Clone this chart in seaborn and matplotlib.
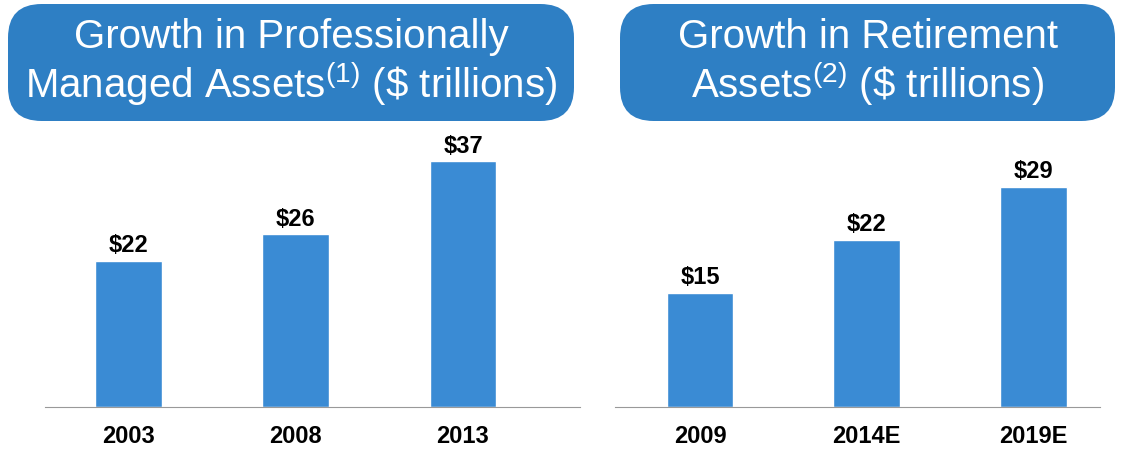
import matplotlib
matplotlib.use("Agg")
import matplotlib.pyplot as plt
from matplotlib.patches import FancyBboxPatch
import seaborn as sns
import pandas as pd

left_years = ["2003", "2008", "2013"]
left_values = [22, 26, 37]
right_years = ["2009", "2014E", "2019E"]
right_values = [15, 22, 29]

sns.set_style("white")
plt.rcParams["font.family"] = ["Liberation Sans", "DejaVu Sans"]
plt.rcParams["mathtext.fontset"] = "custom"
plt.rcParams["mathtext.rm"] = "Liberation Sans"

W, H = 1122, 452
fig = plt.figure(figsize=(W / 100, H / 100), dpi=100)
bar_color = "#3A8BD4"
box_color = "#2E7FC4"


def panel(x0, x1, years, values, ymax, xlim):
    ax = fig.add_axes([x0 / W, 44 / H, (x1 - x0) / W, 300 / H])
    df = pd.DataFrame({"year": years, "value": values})
    sns.barplot(data=df, x="year", y="value", color=bar_color, width=0.4,
                saturation=1, ax=ax)
    ax.set_ylim(0, ymax)
    for i, v in enumerate(values):
        ax.text(i, v + ymax * 0.015, f"${v}", ha="center", va="bottom",
                fontsize=17, fontweight="bold", color="black")
    ax.set_xlabel("")
    ax.set_ylabel("")
    ax.set_yticks([])
    for s in ["top", "left", "right"]:
        ax.spines[s].set_visible(False)
    ax.spines["bottom"].set_color("#999999")
    ax.set_xlim(*xlim)
    ax.set_xticks([xlim[0], 0.5, 1.5, xlim[1]], minor=True)
    ax.tick_params(axis="x", which="minor", length=5, color="#999999", direction="out")
    ax.tick_params(axis="x", which="major", length=0, pad=12)
    for lbl in ax.get_xticklabels():
        lbl.set_fontsize(17)
        lbl.set_fontweight("bold")
        lbl.set_color("black")
    return ax


panel(45, 580, left_years, left_values, 300 / 6.64, (-0.5, 2.7))
panel(615, 1100, right_years, right_values, 300 / 7.6, (-0.51, 2.4))


def title_box(bx0, bx1, lines):
    box = FancyBboxPatch((bx0 / W, 1 - 122 / H), (bx1 - bx0) / W, 117 / H,
                         boxstyle="round,pad=0,rounding_size=0.03",
                         transform=fig.transFigure, facecolor=box_color,
                         edgecolor="none", mutation_aspect=W / H)
    fig.patches.append(box)
    cx = (bx0 + bx1) / 2 / W
    fig.text(cx, 1 - 37 / H, lines[0], ha="center", va="center",
             color="white", fontsize=29)
    fig.text(cx, 1 - 84 / H, lines[1], ha="center", va="center",
             color="white", fontsize=29)


title_box(8, 574, ["Growth in Professionally",
                   r"Managed Assets$^{(1)}$ (\$ trillions)"])
title_box(620, 1115, ["Growth in Retirement",
                      r"Assets$^{(2)}$ (\$ trillions)"])

fig.savefig("out.png", dpi=100)
